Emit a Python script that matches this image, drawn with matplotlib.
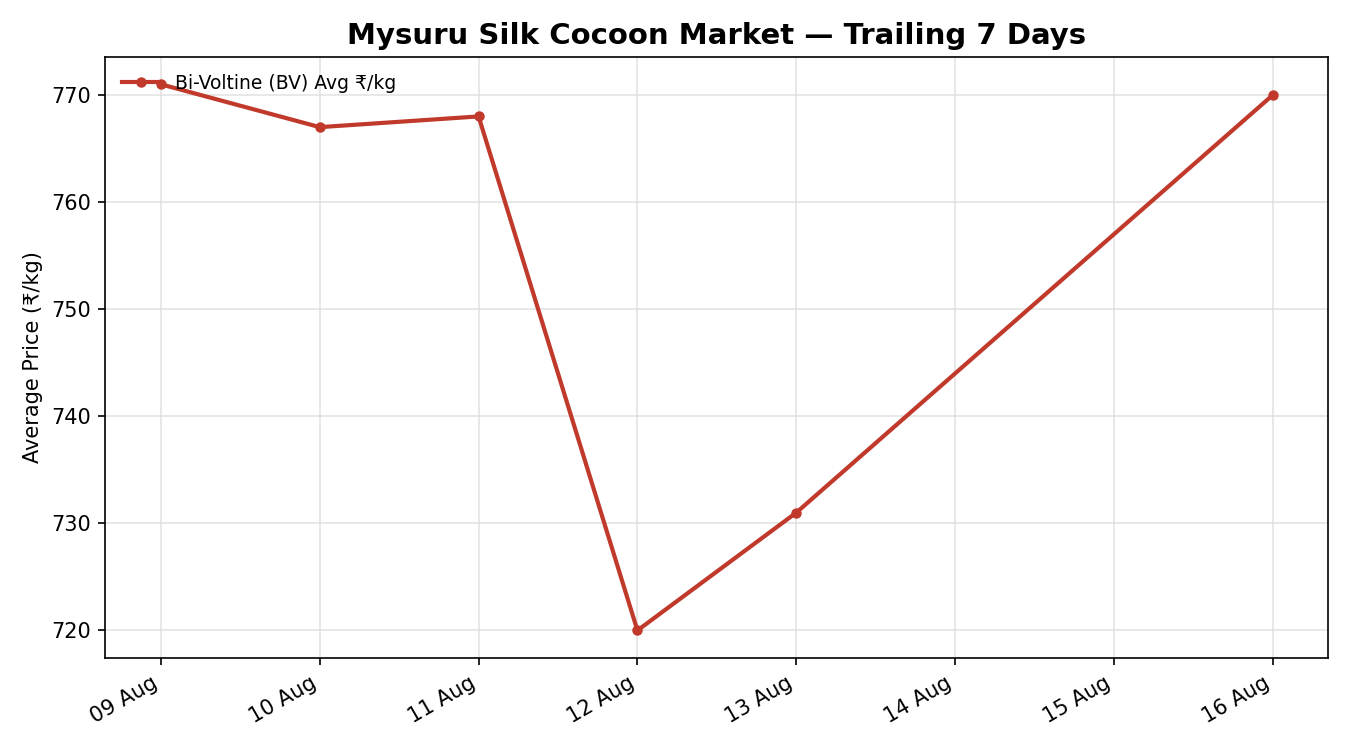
import matplotlib
matplotlib.use('Agg')
import matplotlib.pyplot as plt
import matplotlib.dates as mdates
import pandas as pd

# 数据
dates = ['2024-08-09', '2024-08-10', '2024-08-11', '2024-08-12', '2024-08-13', '2024-08-16']
bv_price = [771, 767, 768, 720, 731, 770]

plt.rcParams['font.family'] = ['DejaVu Sans', 'Noto Sans']

fig, ax = plt.subplots(figsize=(9, 5), dpi=150)
x = pd.to_datetime(dates)
ax.plot(x, bv_price, color='#c0392b', linewidth=2, marker='o', markersize=4,
        label='Bi-Voltine (BV) Avg ₹/kg')

ax.set_title('Mysuru Silk Cocoon Market — Trailing 7 Days', fontsize=14, fontweight='bold')
ax.set_ylabel('Average Price (₹/kg)')
ax.grid(True, color='#dddddd', linewidth=0.8, alpha=0.8)
ax.xaxis.set_major_locator(mdates.DayLocator())
ax.xaxis.set_major_formatter(mdates.DateFormatter('%d %b'))
ax.legend(loc='upper left', frameon=False, fontsize=9)
fig.autofmt_xdate()

plt.subplots_adjust(left=0.078, right=0.984, top=0.924, bottom=0.123)
plt.savefig('out.png', dpi=150)
